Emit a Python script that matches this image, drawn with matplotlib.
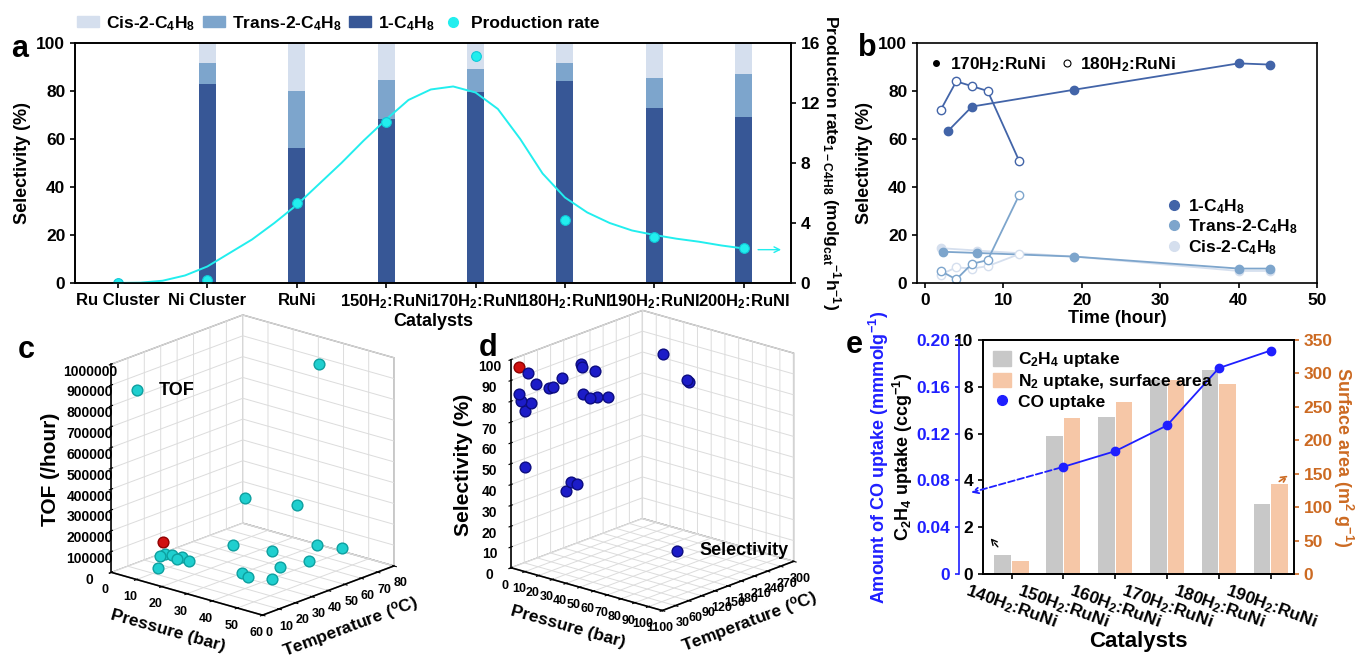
import numpy as np
import matplotlib
matplotlib.use('Agg')
import matplotlib.pyplot as plt
import matplotlib.transforms as mtransforms
from matplotlib.patches import Patch
from matplotlib.lines import Line2D
from matplotlib.ticker import FuncFormatter

plt.rcParams['font.family'] = ['Liberation Sans', 'DejaVu Sans']
plt.rcParams['font.weight'] = 'bold'
plt.rcParams['axes.labelweight'] = 'bold'
plt.rcParams['mathtext.fontset'] = 'custom'
plt.rcParams['mathtext.rm'] = 'Liberation Sans:bold'
plt.rcParams['mathtext.it'] = 'Liberation Sans:italic:bold'
plt.rcParams['mathtext.bf'] = 'Liberation Sans:bold'
plt.rcParams['mathtext.default'] = 'regular'
plt.rcParams['axes.linewidth'] = 1.2
plt.rcParams['grid.color'] = '#d8d8d8'

# ---- panel a data
cats_a = ['Ru Cluster', 'Ni Cluster', 'RuNi', '150H$_2$:RuNi', '170H$_2$:RuNI',
          '180H$_2$:RuNI', '190H$_2$:RuNI', '200H$_2$:RuNI']
sel_1c4 = [0, 83.0, 56.1, 68.3, 79.6, 84.2, 72.8, 69.0]
sel_trans = [0, 8.5, 23.8, 16.1, 9.7, 7.5, 12.5, 18.1]
sel_cis = [0, 8.5, 20.1, 15.6, 10.7, 8.3, 14.7, 12.9]
rate_pts = [0.0, 0.22, 5.33, 10.7, 15.16, 4.18, 3.07, 2.31]
# smooth fitted curve (category index, rate)
fit_x = [0, 0.25, 0.5, 0.75, 1, 1.25, 1.5, 1.75, 2, 2.25, 2.5, 2.75, 3, 3.25, 3.5,
         3.75, 4, 4.25, 4.5, 4.75, 5, 5.25, 5.5, 5.75, 6, 6.25, 6.5, 6.75, 7]
fit_y = [0.0, 0.02, 0.15, 0.5, 1.1, 2.0, 2.9, 4.0, 5.2, 6.6, 8.0, 9.5, 10.9, 12.2, 12.9,
         13.1, 12.7, 11.6, 9.6, 7.3, 5.7, 4.7, 4.0, 3.5, 3.2, 2.95, 2.75, 2.5, 2.3]

# ---- panel b data
t170_1 = [3, 6, 19, 40, 44]
s170_1 = [63.5, 73.5, 80.5, 91.5, 91.0]
t170_tr = [2.3, 6.7, 19, 40, 44]
s170_tr = [13.0, 12.5, 11.0, 6.0, 6.0]
t170_cis = [2, 6.7, 19, 40, 44]
s170_cis = [14.5, 13.5, 11.0, 5.0, 5.0]
t180 = [2, 4, 6, 8, 12]
s180_1 = [72, 84, 82, 80, 51]
s180_tr = [5, 1.5, 8, 9.5, 36.5]
s180_cis = [3.5, 6.5, 6, 7, 12]

# ---- panel c data (pressure bar, temperature C, TOF /hour)
pc = [42, 23, 39, 11, 11, 13, 17, 17, 21, 18, 17, 30, 36, 44, 44, 41, 36, 40, 47]
tc = [62, 46, 53, 13, 16, 17, 14, 17, 15, 1, 48, 52, 70, 73, 53, 40, 24, 22, 26]
tofc = [960000, 300000, 300000, 80000, 80000, 80000, 80000, 80000, 80000, 80000,
        50000, 50000, 50000, 50000, 50000, 50000, 50000, 50000, 50000]
pc_red, tc_red, tofc_red = [12], [13], [150000]

# ---- panel d data (pressure bar, temperature C, selectivity %)
pd_ = [4, 4, 5, 8, 6, 10, 15, 18, 21, 25, 26, 29, 33, 38, 40, 45, 5, 30, 34, 38, 31, 50, 49]
td = [5, 10, 15, 20, 20, 25, 40, 40, 50, 80, 80, 100, 60, 60, 70, 80, 15, 30, 30, 30, 250, 250, 248]
sd = [84, 80, 75, 79, 93, 88, 86, 87, 91, 96, 95, 92, 85, 84, 84, 84, 48, 40, 45, 45, 89, 79, 80]
pd_red, td_red, sd_red = [4], [5], [97]

# ---- panel e data
cats_e = ['140H$_2$:RuNi', '150H$_2$:RuNi', '160H$_2$:RuNi', '170H$_2$:RuNi',
          '180H$_2$:RuNi', '190H$_2$:RuNi']
c2h4 = [0.8, 5.9, 6.7, 8.3, 8.7, 3.0]
surf = [20, 233, 258, 290, 284, 135]
co_up = [0.0916, 0.105, 0.127, 0.176, 0.191]

c_1 = '#375796'
c_tr = '#7da5cc'
c_cis = '#d5dfee'
cyan = '#22eeee'

fig = plt.figure(figsize=(13.55, 6.57), dpi=100)


def style3d(ax):
    ax.patch.set_visible(False)
    for axis in (ax.xaxis, ax.yaxis, ax.zaxis):
        axis.set_pane_color((1, 1, 1, 1))
        axis.pane.set_edgecolor('#999999')
        axis._axinfo['grid'].update(color='#dcdcdc', linewidth=0.7)
        axis._axinfo['axisline']['color'] = 'black'
    ax.tick_params(axis='x', labelsize=9, pad=-2)
    ax.tick_params(axis='y', labelsize=9, pad=-2)
    ax.tick_params(axis='z', labelsize=10, pad=2)
    ax.zaxis.set_ticks_position('lower')
    ax.zaxis.set_label_position('lower')


# ================= panel c
axc = fig.add_axes([0.018, 0.02, 0.33, 0.53], projection='3d', proj_type='ortho')
axc.scatter(pc, tc, tofc, s=60, color='#1fcfcf', edgecolors='#0d9f9f', depthshade=False, label='TOF')
axc.scatter(pc_red, tc_red, tofc_red, s=60, color='#d01010', edgecolors='#900000', depthshade=False)
axc.set_xlim(0, 60)
axc.set_ylim(0, 80)
axc.set_zlim(0, 1000000)
axc.set_xticks(range(0, 61, 10))
axc.set_yticks(range(0, 81, 10))
axc.set_zticks(range(0, 1000001, 100000))
axc.zaxis.set_major_formatter(FuncFormatter(lambda v, p: f'{int(v)}'))
axc.view_init(elev=19, azim=-49)
axc.set_box_aspect((1, 1, 1.1), zoom=1.0)
style3d(axc)
axc.set_xlabel('Pressure (bar)', fontsize=12.5, labelpad=-2)
axc.set_ylabel('Temperature ($^o$C)', fontsize=12.5, labelpad=-2)
axc.set_zlabel('TOF (/hour)', fontsize=15, labelpad=7)
axc.legend(loc='upper left', bbox_to_anchor=(0.082, 0.80), frameon=False, fontsize=13,
           handletextpad=0.2)

# ================= panel d
axd = fig.add_axes([0.323, 0.027, 0.31, 0.53], projection='3d', proj_type='ortho')
axd.scatter(pd_, td, sd, s=60, color='#1c1cc8', edgecolors='#0c0c80', depthshade=False,
            label='Selectivity')
axd.scatter(pd_red, td_red, sd_red, s=60, color='#d01010', edgecolors='#900000', depthshade=False)
axd.set_xlim(0, 110)
axd.set_ylim(0, 300)
axd.set_zlim(0, 100)
axd.set_xticks(range(0, 111, 10))
axd.set_yticks(range(0, 301, 30))
axd.set_zticks(range(0, 101, 10))
axd.view_init(elev=19, azim=-49)
axd.set_box_aspect((1, 1, 1.1), zoom=1.0)
style3d(axd)
axd.set_xlabel('Pressure (bar)', fontsize=12.5, labelpad=-2)
axd.set_ylabel('Temperature ($^o$C)', fontsize=12.5, labelpad=-2)
axd.set_zlabel('Selectivity (%)', fontsize=15, labelpad=1)
axd.legend(loc='lower right', bbox_to_anchor=(0.95, 0.183), frameon=False, fontsize=13,
           handletextpad=0.2)

# ================= panel a
axa = fig.add_axes([0.0554, 0.5693, 0.5284, 0.3653])
xa = np.arange(len(cats_a))
bw = 0.19
axa.bar(xa, sel_1c4, bw, color=c_1)
axa.bar(xa, sel_trans, bw, bottom=sel_1c4, color=c_tr)
axa.bar(xa, sel_cis, bw, bottom=np.array(sel_1c4) + np.array(sel_trans), color=c_cis)
axa.set_xlim(-0.48, 7.53)
axa.set_ylim(0, 100)
axa.set_xticks(xa)
axa.set_xticklabels(cats_a, fontsize=12)
axa.set_yticks(range(0, 101, 20))
axa.tick_params(axis='y', labelsize=12.5, width=1.2)
axa.tick_params(axis='x', width=1.2)
axa.set_ylabel('Selectivity (%)', fontsize=13)
axa.yaxis.set_label_coords(-0.062, 0.5)
axa.set_xlabel('Catalysts', fontsize=13, labelpad=1)
axa2 = axa.twinx()
axa2.plot(fit_x, fit_y, color=cyan, lw=1.4)
axa2.plot(xa, rate_pts, 'o', color=cyan, ms=7, mec='#10c8d8', mew=0.8)
axa2.annotate('', xy=(7.45, 2.22), xytext=(7.13, 2.22),
              arrowprops=dict(arrowstyle='->', color=cyan, lw=1.0))
axa2.set_ylim(0, 16)
axa2.set_yticks(range(0, 17, 4))
axa2.tick_params(labelsize=12.5, width=1.2)
axa2.set_ylabel('Production rate$_{1-C4H8}$ (molg$_{cat}$$^{-1}$h$^{-1}$)',
                fontsize=12.5, rotation=270, labelpad=16)
hand_a = [Patch(color=c_cis), Patch(color=c_tr), Patch(color=c_1),
          Line2D([], [], marker='o', ls='none', color=cyan, ms=7)]
lab_a = ['Cis-2-C$_4$H$_8$', 'Trans-2-C$_4$H$_8$', '1-C$_4$H$_8$', 'Production rate']
axa.legend(hand_a, lab_a, ncol=4, loc='lower left', bbox_to_anchor=(-0.012, 1.0),
           frameon=False, fontsize=12.5, handlelength=1.3, handleheight=0.6,
           columnspacing=0.4, handletextpad=0.4, borderaxespad=0.2)

# ================= panel b
axb = fig.add_axes([0.6768, 0.5693, 0.2952, 0.3653])
ms = 6
axb.plot(t170_cis, s170_cis, '-o', color=c_cis, ms=ms, lw=1.3)
axb.plot(t170_tr, s170_tr, '-o', color=c_tr, ms=ms, lw=1.3)
axb.plot(t170_1, s170_1, '-o', color='#4264a8', ms=ms, lw=1.3)
axb.plot(t180, s180_cis, '-o', color=c_cis, mfc='white', ms=ms, lw=1.3)
axb.plot(t180, s180_tr, '-o', color=c_tr, mfc='white', ms=ms, lw=1.3)
axb.plot(t180, s180_1, '-o', color='#4264a8', mfc='white', ms=ms, lw=1.3)
axb.set_xlim(-1, 50)
axb.set_ylim(0, 100)
axb.set_xticks(range(0, 51, 10))
axb.set_yticks(range(0, 101, 20))
axb.tick_params(labelsize=12.5, width=1.2)
axb.set_xlabel('Time (hour)', fontsize=13, labelpad=2)
axb.set_ylabel('Selectivity (%)', fontsize=13, labelpad=4)
leg_top = axb.legend([Line2D([], [], marker='o', ls='none', color='k', ms=4),
                      Line2D([], [], marker='o', ls='none', color='k', mfc='white', ms=5, mew=0.8)],
                     ['170H$_2$:RuNi', '180H$_2$:RuNi'], ncol=2, loc='upper left',
                     frameon=False, fontsize=12.5, handlelength=0.8, handletextpad=0.4,
                     columnspacing=0.8, borderaxespad=0.3)
axb.add_artist(leg_top)
axb.legend([Line2D([], [], marker='o', ls='none', color=c, ms=7) for c in ['#4264a8', c_tr, c_cis]],
           ['1-C$_4$H$_8$', 'Trans-2-C$_4$H$_8$', 'Cis-2-C$_4$H$_8$'], loc='lower right',
           bbox_to_anchor=(0.99, 0.045), frameon=False, fontsize=12.5, handlelength=0.8,
           handletextpad=0.4, labelspacing=0.1)

# ================= panel e
blue = '#1f1fff'
orange = '#cc6a22'
axe = fig.add_axes([0.7255, 0.1263, 0.2295, 0.3562])
xe = np.arange(len(cats_e))
axe.bar(xe - 0.17, c2h4, 0.32, color='#c8c8c8')
axe.set_xlim(-0.55, 5.45)
axe.set_ylim(0, 10)
axe.set_yticks(range(0, 11, 2))
axe.set_xticks(xe)
axe.set_xticklabels(cats_e, fontsize=12.5, rotation=-20, ha='center')
off = mtransforms.ScaledTranslation(22 / 100, 0, fig.dpi_scale_trans)
for lbl in axe.get_xticklabels():
    lbl.set_transform(lbl.get_transform() + off)
axe.tick_params(labelsize=12.5, width=1.2)
axe.tick_params(axis='x', pad=2)
axe.set_xlabel('Catalysts', fontsize=16, labelpad=-1)
axe.set_ylabel('C$_2$H$_4$ uptake (ccg$^{-1}$)', fontsize=13)
axe.yaxis.set_label_coords(-0.22, 0.5)
axe.annotate('', xy=(-0.44, 1.62), xytext=(-0.23, 1.07),
             arrowprops=dict(arrowstyle='->', ls='--', color='black', lw=1.0))
axe.annotate('', xy=(5.38, 4.27), xytext=(5.12, 3.89),
             arrowprops=dict(arrowstyle='->', ls='--', color=orange, lw=1.2), annotation_clip=False)

axe_r = axe.twinx()
axe_r.bar(xe + 0.17, surf, 0.32, color='#f6c7a7')
axe_r.set_ylim(0, 350)
axe_r.set_yticks(range(0, 351, 50))
axe_r.tick_params(labelsize=12.5, width=1.2, colors=orange)
axe_r.spines['right'].set_color('black')
axe_r.set_ylabel('Surface area (m$^2$ g$^{-1}$)', fontsize=13, color=orange,
                 rotation=270, labelpad=16)

axe_b = axe.twinx()
axe_b.spines['right'].set_visible(False)
axe_b.spines['left'].set_visible(True)
axe_b.spines['left'].set_position(('outward', 17))
axe_b.spines['left'].set_color(blue)
axe_b.yaxis.tick_left()
axe_b.yaxis.set_label_position('left')
axe_b.plot(xe[1:], co_up, '-o', color=blue, ms=6, lw=1.3)
axe_b.annotate('', xy=(-0.83, 0.069), xytext=(1, 0.0916),
               arrowprops=dict(arrowstyle='->', ls='--', color=blue, lw=1.3),
               annotation_clip=False)
axe_b.set_ylim(0, 0.2)
axe_b.set_yticks([0, 0.04, 0.08, 0.12, 0.16, 0.20])
axe_b.yaxis.set_major_formatter(FuncFormatter(lambda v, p: '0' if v == 0 else f'{v:.2f}'))
axe_b.tick_params(labelsize=12.5, width=1.2, colors=blue, length=3)
axe_b.set_ylabel('Amount of CO uptake (mmmolg$^{-1}$)', fontsize=13, color=blue)
axe_b.yaxis.set_label_coords(-0.295, 0.5)
hand_e = [Patch(color='#c8c8c8'), Patch(color='#f6c7a7'),
          Line2D([], [], marker='o', ls='none', color=blue, ms=7)]
axe_b.legend(hand_e, ['C$_2$H$_4$ uptake', 'N$_2$ uptake, surface area', 'CO uptake'],
             loc='upper left', frameon=False, fontsize=12.5, handlelength=1.0,
             handleheight=0.9, handletextpad=0.4, labelspacing=0.15, borderaxespad=0.2)

# panel letters
for s, x, y in [('a', 0.008, 0.925), ('b', 0.633, 0.927), ('c', 0.013, 0.467),
                ('d', 0.353, 0.470), ('e', 0.624, 0.475)]:
    fig.text(x, y, s, fontsize=22, fontweight='bold', va='center')

fig.savefig('out.png', dpi=100)
